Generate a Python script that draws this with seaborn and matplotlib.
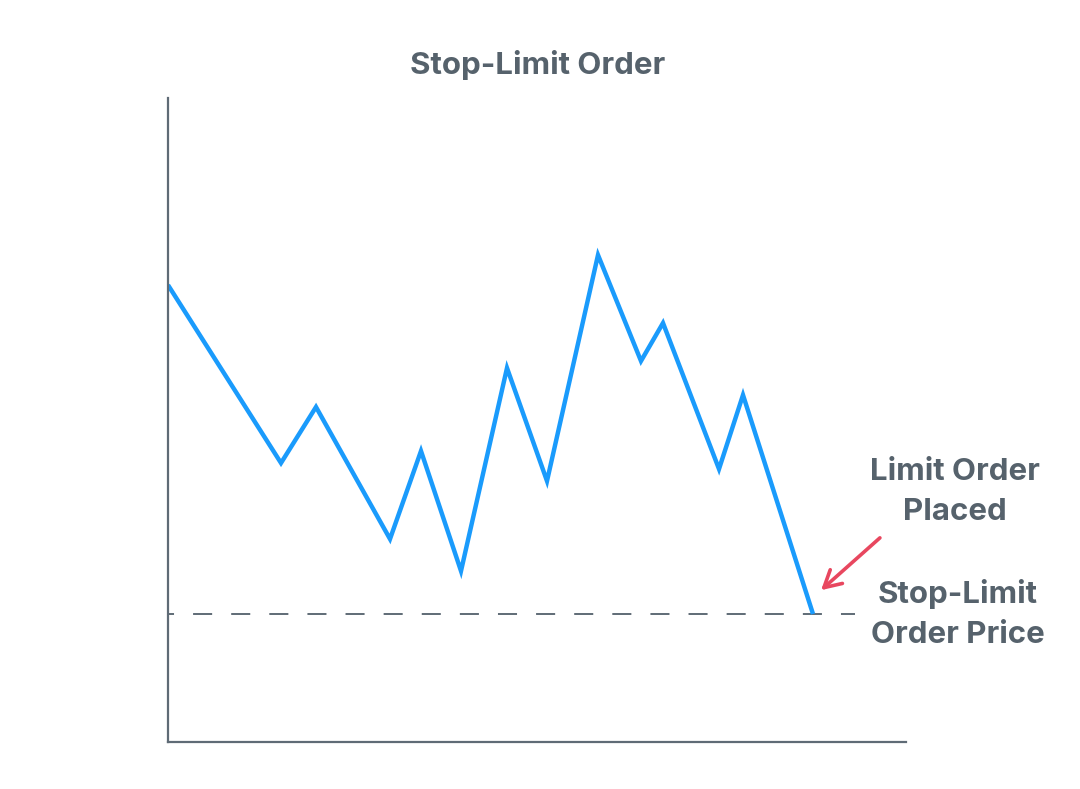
import matplotlib

matplotlib.use("Agg")
import matplotlib.pyplot as plt
import pandas as pd
import seaborn as sns

# price path (time step, price level)
steps = [0, 113, 148, 222, 253, 293, 339, 379, 430, 473, 495, 551, 575, 645]
prices = [457, 279, 335, 203, 291, 171, 374, 261, 487, 381, 419, 273, 347, 128]
stop_limit_price = 128

title = "Stop-Limit Order"
label_placed = "Limit Order\nPlaced"
label_price = "Stop-Limit\nOrder Price"

TEXT = "#56626c"
AXIS = "#5f6b76"
LINE = "#1a9bfc"
ARROW = "#e8475f"

sns.set_theme(style="white")
plt.rcParams["font.family"] = ["Inter", "DejaVu Sans"]

fig = plt.figure(figsize=(10.8, 7.89), dpi=100)
ax = fig.add_axes([168 / 1080, 47 / 789, 738 / 1080, 644 / 789])

df = pd.DataFrame({"step": steps, "price": prices})
sns.lineplot(data=df, x="step", y="price", ax=ax, color=LINE, lw=3.2,
             solid_joinstyle="miter", solid_capstyle="butt")

ax.plot([0, 687], [stop_limit_price, stop_limit_price],
        ls=(6.7, (9.8, 9.8)), color=AXIS, lw=1.4, zorder=1)

ax.set_xlim(0, 738)
ax.set_ylim(0, 644)
ax.set_xticks([])
ax.set_yticks([])
ax.set_xlabel("")
ax.set_ylabel("")
for side in ("top", "right"):
    ax.spines[side].set_visible(False)
for side in ("left", "bottom"):
    ax.spines[side].set_color(AXIS)
    ax.spines[side].set_linewidth(1.6)

fig.text(538 / 1080, 1 - 65 / 789, title, ha="center", va="center",
         fontsize=22.5, fontweight="bold", color=TEXT)

ax.text(787, 250, label_placed, ha="center", va="center", fontsize=22.5,
        fontweight="bold", color=TEXT, linespacing=1.55)
ax.text(790, 128, label_price, ha="center", va="center", fontsize=22.5,
        fontweight="bold", color=TEXT, linespacing=1.55)

ax.annotate("", xy=(651, 150), xytext=(714, 206),
            arrowprops=dict(arrowstyle="->,head_length=1.0,head_width=0.55",
                            color=ARROW, lw=2.6))

fig.savefig("out.png", dpi=100, facecolor="white")
